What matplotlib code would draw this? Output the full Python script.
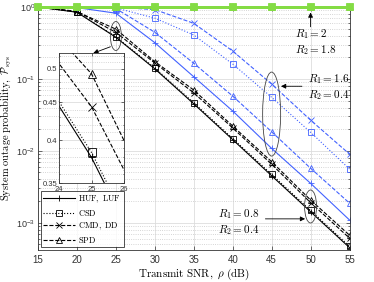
import matplotlib
matplotlib.use('Agg')
import matplotlib.pyplot as plt
import matplotlib.transforms as transforms
from matplotlib.patches import Ellipse
from matplotlib.ticker import FixedLocator, FixedFormatter, NullFormatter, LogLocator

snr = [15, 20, 25, 30, 35, 40, 45, 50, 55]

# R1 = 0.8, R2 = 0.4 (black)
huf_low = [1, 0.845, 0.379, 0.138, 0.045, 0.0143, 0.0045, 0.00142, 0.00045]
csd_low = [1, 0.85, 0.385, 0.142, 0.0465, 0.0148, 0.0047, 0.00148, 0.00047]
cmd_low = [1, 0.87, 0.444, 0.166, 0.064, 0.0208, 0.0065, 0.00190, 0.00061]
spd_low = [1, 0.86, 0.492, 0.174, 0.070, 0.0221, 0.00705, 0.00207, 0.00067]

# R1 = 1.6, R2 = 0.4 (blue)
huf_mid = [1, 0.98, 0.82, 0.319, 0.107, 0.0358, 0.0108, 0.00353, 0.00109]
csd_mid = [1, 1.0, 0.97, 0.70, 0.408, 0.161, 0.0555, 0.0181, 0.00558]
cmd_mid = [1, 1.0, 0.995, 0.92, 0.593, 0.244, 0.0848, 0.0267, 0.0090]
spd_mid = [1, 1.0, 0.95, 0.445, 0.165, 0.0577, 0.0184, 0.00572, 0.00187]

# R1 = 2, R2 = 1.8 (green)
all_high = [1, 1, 1, 1, 1, 1, 1, 1, 1]

labels = [r'$\mathrm{HUF,\ LUF}$', r'$\mathrm{CSD}$', r'$\mathrm{CMD,\ DD}$', r'$\mathrm{SPD}$']
styles = [('-', '+'), (':', 's'), ('--', 'x'), ('--', '^')]

black = 'k'
blue = '#4262ff'
green = '#84dc44'

plt.rcParams['mathtext.fontset'] = 'cm'
plt.rcParams['font.family'] = 'Liberation Sans'

fig = plt.figure(figsize=(3.74, 2.82), dpi=100, facecolor='w')
ax = fig.add_axes([38 / 374, 32 / 282, 311.5 / 374, 243 / 282])

lw = 0.8
ms = 5
for ys, lab, (ls, mk) in zip([huf_low, csd_low, cmd_low, spd_low], labels, styles):
    ax.plot(snr, ys, color=black, ls=ls, marker=mk, ms=ms, mew=0.6, lw=lw,
            fillstyle='none', label=lab)
for ys, (ls, mk) in zip([huf_mid, csd_mid, cmd_mid, spd_mid], styles):
    ax.plot(snr, ys, color=blue, ls=ls, marker=mk, ms=ms, mew=0.6, lw=lw,
            fillstyle='none')
for ls, mk in styles:
    ax.plot(snr, all_high, color=green, ls='-', marker=mk, ms=ms, mew=1.3, lw=2.0,
            fillstyle='none', clip_on=False, zorder=5)

ax.set_yscale('log')
ax.set_xlim(15, 55)
ax.set_ylim(10 ** -3.38, 1)
ax.set_xticks(snr)
ax.yaxis.set_major_locator(FixedLocator([1e-3, 1e-2, 1e-1, 1]))
ax.yaxis.set_minor_locator(LogLocator(subs=range(2, 10)))
ax.yaxis.set_minor_formatter(NullFormatter())

ax.grid(True, which='major', color='#dddddd', lw=0.6)
ax.grid(True, which='minor', axis='y', color='#c8c8c8', ls=':', lw=0.6)
ax.set_axisbelow(True)
ax.tick_params(which='both', direction='in', top=True, right=True,
               colors='#333333', labelsize=7, width=0.5)
ax.tick_params(axis='y', labelsize=6.5, pad=2)
ax.tick_params(which='major', length=3)
ax.tick_params(which='minor', length=1.5)
for pos in ['top', 'bottom', 'left', 'right']:
    ax.spines[pos].set_color('#333333')
    ax.spines[pos].set_linewidth(0.6)

ax.set_xlabel(r'$\mathrm{Transmit\ SNR,}\ \rho\ \mathrm{(dB)}$', fontsize=8, labelpad=1)
ax.set_ylabel(r'$\mathrm{System\ outage\ probability,}\ \mathcal{P}_{\mathrm{sys}}$',
              fontsize=7.5)
ax.yaxis.set_label_coords(-0.076, 0.5)

leg = ax.legend(loc='lower left', fontsize=6, frameon=True, fancybox=False,
                edgecolor='k', handlelength=3.8, borderaxespad=0.35,
                labelspacing=0.32, handletextpad=0.4, borderpad=0.3)
leg.get_frame().set_linewidth(0.6)


def ring(x, y, w, h):
    tr = fig.dpi_scale_trans + transforms.ScaledTranslation(x, y, ax.transData)
    ax.add_patch(Ellipse((0, 0), w / 100, h / 100, transform=tr, fill=False,
                         ec='#444444', lw=0.6, zorder=6))


arrow = dict(arrowstyle='-|>', color='k', lw=0.6, mutation_scale=7, shrinkA=0, shrinkB=0)

ring(25, 0.395, 11, 29)
ring(45, 0.0324, 18, 84)
ring(50, 0.00168, 12, 33)

ax.annotate('', xy=(50, 0.84), xytext=(50, 0.53), arrowprops=arrow, zorder=7)
ax.text(48.0, 0.33, '$R_1 = 2$\n$R_2 = 1.8$', fontsize=8, ha='left', va='center')

ax.annotate('', xy=(46.2, 0.079), xytext=(48.9, 0.079), arrowprops=arrow, zorder=7)
ax.text(49.7, 0.078, '$R_1 = 1.6$\n$R_2 = 0.4$', fontsize=8, ha='left', va='center')

ax.annotate('', xy=(49.3, 0.00113), xytext=(44.2, 0.00113), arrowprops=arrow, zorder=7)
ax.text(43.4, 0.00101, '$R_1 = 0.8$\n$R_2 = 0.4$', fontsize=8, ha='right', va='center')

ax.annotate('', xy=(22.1, 0.228), xytext=(24.3, 0.28), arrowprops=arrow, zorder=7)

# zoomed inset around 25 dB
axin = fig.add_axes([59 / 374, 99 / 282, 65 / 374, 130 / 282])
for ys, (ls, mk) in zip([huf_low, csd_low, cmd_low, spd_low], styles):
    axin.plot(snr, ys, color=black, ls=ls, marker=mk, ms=ms + 1, mew=0.6, lw=lw,
              fillstyle='none')
axin.set_yscale('log')
axin.set_xlim(24, 26)
axin.set_ylim(0.35, 0.525)
axin.set_xticks([24, 25, 26])
in_ticks = [0.35, 0.4, 0.45, 0.5]
axin.yaxis.set_major_locator(FixedLocator(in_ticks))
axin.yaxis.set_major_formatter(FixedFormatter(['0.35', '0.4', '0.45', '0.5']))
axin.yaxis.set_minor_locator(FixedLocator([0.36, 0.37, 0.38, 0.39, 0.41, 0.42, 0.43,
                                           0.44, 0.46, 0.47, 0.48, 0.49, 0.51, 0.52]))
axin.yaxis.set_minor_formatter(NullFormatter())
axin.grid(True, which='major', color='#dddddd', lw=0.6)
axin.grid(True, which='minor', axis='y', color='#c8c8c8', ls=':', lw=0.6)
axin.set_axisbelow(True)
axin.tick_params(which='both', direction='in', top=True, right=True,
                 colors='#333333', labelsize=5.5, width=0.5, pad=1.2)
axin.tick_params(axis='x', pad=2)
axin.tick_params(which='major', length=2)
axin.tick_params(which='minor', length=1)
for pos in ['top', 'bottom', 'left', 'right']:
    axin.spines[pos].set_color('#333333')
    axin.spines[pos].set_linewidth(0.6)

fig.savefig('out.png', dpi=100)
